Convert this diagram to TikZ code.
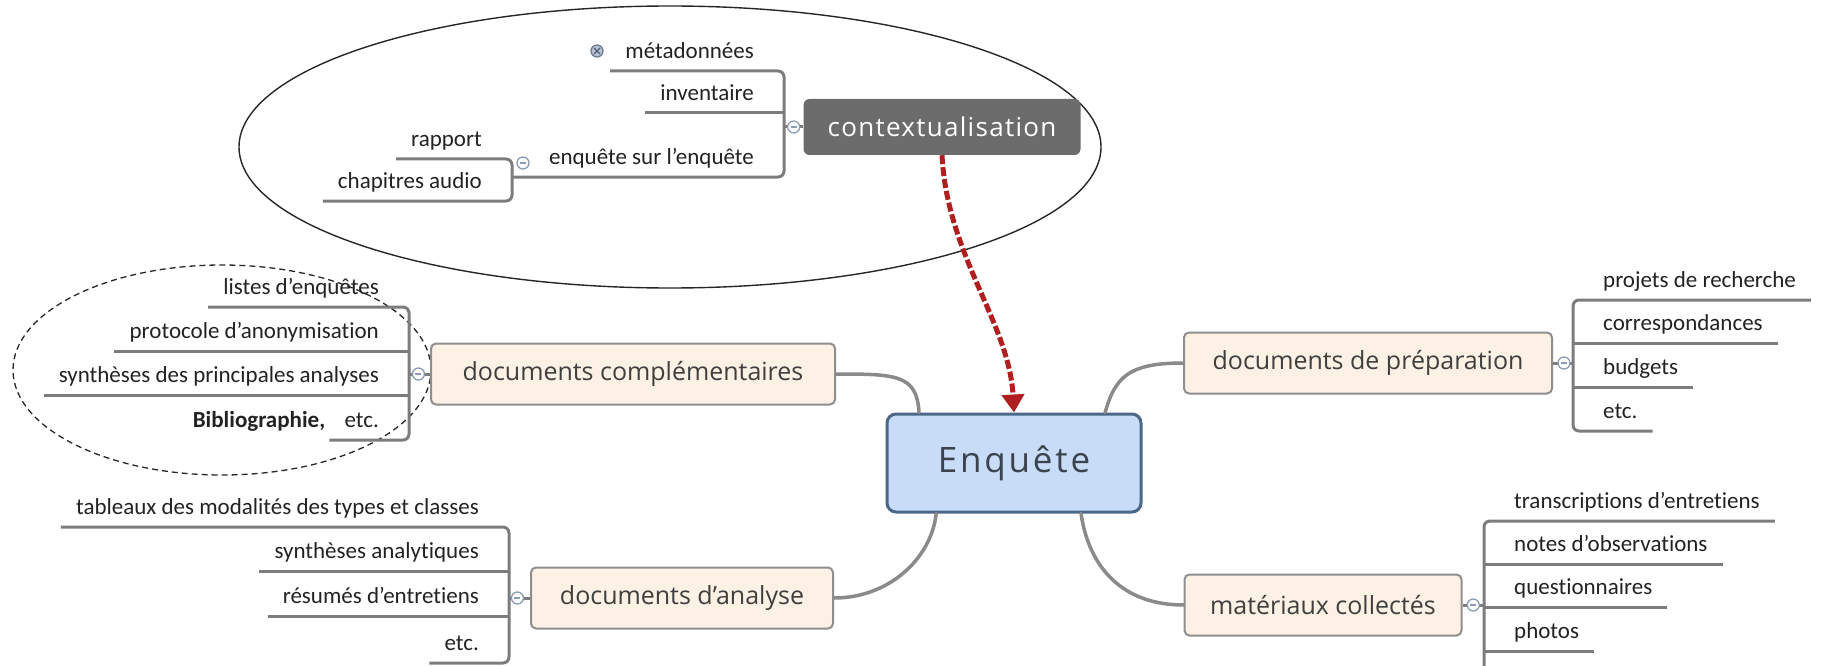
\documentclass[tikz,border=0pt]{standalone}
\usepackage{fontspec}
\newfontfamily\leaffont[Ligatures={NoCommon,NoContextual}]{Carlito}
\newfontfamily\boxfont{Open Sans}
\newfontfamily\widefont[LetterSpace=5]{Open Sans}
\newfontfamily\rootfont[LetterSpace=8]{Open Sans}
\usetikzlibrary{arrows.meta,calc}

\definecolor{leafink}{HTML}{222222}
\definecolor{twiggray}{HTML}{7C7C7C}
\definecolor{boughgray}{HTML}{8A8A8A}
\definecolor{branchfill}{HTML}{FDF0E5}
\definecolor{branchline}{HTML}{8E8E8E}
\definecolor{branchink}{HTML}{3F3F3F}
\definecolor{rootfill}{HTML}{C8DCF7}
\definecolor{rootline}{HTML}{4C6889}
\definecolor{rootink}{HTML}{3A434E}
\definecolor{ctxfill}{HTML}{6C6C6C}
\definecolor{knobline}{HTML}{8C9CB4}
\definecolor{knobfill}{HTML}{B4C2DA}
\definecolor{linkred}{HTML}{B01F1F}

\begin{document}
\begin{tikzpicture}[x=1pt, y=-1pt, line join=round,
	leafL/.style={font=\fontsize{23}{26}\leaffont, text=leafink, anchor=south east, inner xsep=15pt, inner ysep=0pt, text height=17pt, text depth=12pt},
	leafR/.style={leafL, anchor=south west},
	twig/.style={draw=twiggray, line width=3pt, rounded corners=6pt},
	knob/.style={circle, draw=knobline, line width=1.3pt, fill=white, inner sep=0pt, minimum size=12pt,
		path picture={\draw[knobline, line width=1.2pt] ([xshift=3pt]path picture bounding box.west) -- ([xshift=-3pt]path picture bounding box.east);}},
	knobplus/.style={circle, draw=knobline!80!black, line width=1.3pt, fill=knobfill, inner sep=0pt, minimum size=12pt,
		path picture={\draw[knobline!60!black, line width=1.2pt] ([shift={(3pt,3pt)}]path picture bounding box.south west) -- ([shift={(-3pt,-3pt)}]path picture bounding box.north east) ([shift={(3pt,-3pt)}]path picture bounding box.north west) -- ([shift={(-3pt,3pt)}]path picture bounding box.south east);}},
	branch/.style={draw=branchline, line width=2pt, fill=branchfill, rounded corners=5pt, font=\fontsize{25}{28}\boxfont, text=branchink, minimum height=61pt, inner xsep=8pt},
	ctx/.style={fill=ctxfill, rounded corners=6pt, text=white, font=\fontsize{26}{30}\widefont, minimum width=277pt, minimum height=56pt},
	root/.style={draw=rootline, line width=3pt, fill=rootfill, rounded corners=9pt, font=\fontsize{35}{40}\rootfont, text=rootink, minimum width=254pt, minimum height=98pt},
	bough/.style={draw=boughgray, line width=3.5pt, line cap=round},
	ring/.style={draw=black!85, line width=1.4pt},
	link/.style={draw=linkred, line width=5pt, dash pattern=on 9pt off 3pt, -{Triangle[length=18pt,width=22pt]}}]

	\useasboundingbox (0,0) rectangle (1826,666);

	% Contextualisation
	\draw[ring] (670,147) ellipse [x radius=431pt, y radius=141pt];
	\node[ctx] (ctx) at (942,127) {contextualisation};
	\coordinate (ctx-j) at (784,127);
	\node[leafL] (meta) at (769,71) {métadonnées};
	\node[leafL] (invent) at (769,113) {inventaire};
	\node[leafL] (enqsur) at (769,177) {enquête sur l’enquête};
	\coordinate (sub-j) at (512,180);
	\node[leafL] (rapport) at (497,159) {rapport};
	\node[leafL] (chap) at (497,201) {chapitres audio};
	\draw[twig] (meta.south west) -- (meta.south west -| ctx-j) -- (enqsur.south -| ctx-j) -- (enqsur.south -| sub-j);
	\draw[twig] (invent.south west) -- (invent.south west -| ctx-j);
	\draw[twig] (ctx.west) -- (ctx-j);
	\draw[twig] (rapport.south west) -- (rapport.south west -| sub-j) -- (chap.south west -| sub-j) -- (chap.south west);
	\node[knob] (ctx-k) at ($(ctx-j)!0.5!(ctx.west)$) {};
	\node[knob] (enqsur-k) at (523,163) {};
	\node[knobplus] (meta-k) at (597,51) {};

	% Documents complémentaires
	\draw[ring, line width=1.3pt, dash pattern=on 6pt off 4pt] (222,370) ellipse [x radius=209pt, y radius=105pt];
	\node[branch, minimum width=404pt] (compl) at (633,374) {documents complémentaires};
	\coordinate (compl-j) at (409,374);
	\node[leafL] (listes) at (394,307) {listes d’enquêtes};
	\node[leafL] (proto) at (394,351) {protocole d’anonymisation};
	\node[leafL] (synth) at (394,395) {synthèses des principales analyses};
	\node[leafL] (etcC) at (394,440) {etc.};
	\node[leafL, inner xsep=0pt, font=\fontsize{23}{26}\leaffont\bfseries] (biblio) at ([xshift=-4pt]etcC.south west) {Bibliographie,};
	\draw[twig] (listes.south west) -- (listes.south west -| compl-j) -- (etcC.south west -| compl-j) -- (etcC.south west);
	\draw[twig] (proto.south west) -- (proto.south west -| compl-j);
	\draw[twig] (synth.south west) -- (synth.south west -| compl-j);
	\draw[twig] (compl.west) -- (compl-j);
	\node[knob] (compl-k) at ($(compl-j)!0.45!(compl.west)$) {};

	% Documents d'analyse
	\node[branch, minimum width=302pt] (analyse) at (682,598) {documents d’analyse};
	\coordinate (analyse-j) at (509,598);
	\node[leafL] (tableaux) at (494,527) {tableaux des modalités des types et classes};
	\node[leafL] (synthana) at (494,571) {synthèses analytiques};
	\node[leafL] (resumes) at (494,616) {résumés d’entretiens};
	\node[leafL] (etcA) at (494,663) {etc.};
	\draw[twig] (tableaux.south west) -- (tableaux.south west -| analyse-j) -- (etcA.south west -| analyse-j) -- (etcA.south west);
	\draw[twig] (synthana.south west) -- (synthana.south west -| analyse-j);
	\draw[twig] (resumes.south west) -- (resumes.south west -| analyse-j);
	\draw[twig] (analyse.west) -- (analyse-j);
	\node[knob] (analyse-k) at ($(analyse-j)!0.4!(analyse.west)$) {};

	% Documents de préparation
	\node[branch, minimum width=368pt] (prep) at (1368,363) {documents de préparation};
	\coordinate (prep-j) at (1573,363);
	\node[leafR] (projets) at (1588,300) {projets de recherche};
	\node[leafR] (corresp) at (1588,343) {correspondances};
	\node[leafR] (budgets) at (1588,387) {budgets};
	\node[leafR] (etcP) at (1588,431) {etc.};
	\draw[twig] (projets.south east) -- (prep-j |- projets.south) -- (prep-j |- etcP.south) -- (etcP.south east);
	\draw[twig] (corresp.south east) -- (prep-j |- corresp.south);
	\draw[twig] (budgets.south east) -- (prep-j |- budgets.south);
	\draw[twig] (prep.east) -- (prep-j);
	\node[knob] (prep-k) at ($(prep.east)!0.55!(prep-j)$) {};

	% Matériaux collectés
	\node[branch, minimum width=277pt] (mat) at (1323,605) {matériaux collectés};
	\coordinate (mat-j) at (1484,605);
	\coordinate (mat-end) at (1484,672);
	\node[leafR] (transcr) at (1499,521) {transcriptions d’entretiens};
	\node[leafR] (notes) at (1499,564) {notes d’observations};
	\node[leafR] (quest) at (1499,607) {questionnaires};
	\node[leafR] (photos) at (1499,651) {photos};
	\draw[twig] (transcr.south east) -- (mat-j |- transcr.south) -- (mat-end);
	\draw[twig] (notes.south east) -- (mat-j |- notes.south);
	\draw[twig] (quest.south east) -- (mat-j |- quest.south);
	\draw[twig] (photos.south east) -- (mat-j |- photos.south);
	\draw[twig] (mat.east) -- (mat-j);
	\node[knob] (mat-k) at ($(mat.east)!0.5!(mat-j)$) {};

	% Enquête
	\node[root] (root) at (1014,463) {Enquête};
	\draw[bough] (compl.east) .. controls +(60,0) and +(-2,-38) .. (root.152);
	\draw[bough] (root.29) .. controls +(10,-35) and +(-55,0) .. (prep.west);
	\draw[bough] (root.213) .. controls +(-5,45) and +(55,0) .. (analyse.east);
	\draw[bough] (root.323) .. controls +(8,55) and +(-60,0) .. (mat.west);

	\draw[link] (ctx.south) .. controls +(5,100) and +(-5,-90) .. (root.north);

\end{tikzpicture}
\end{document}
